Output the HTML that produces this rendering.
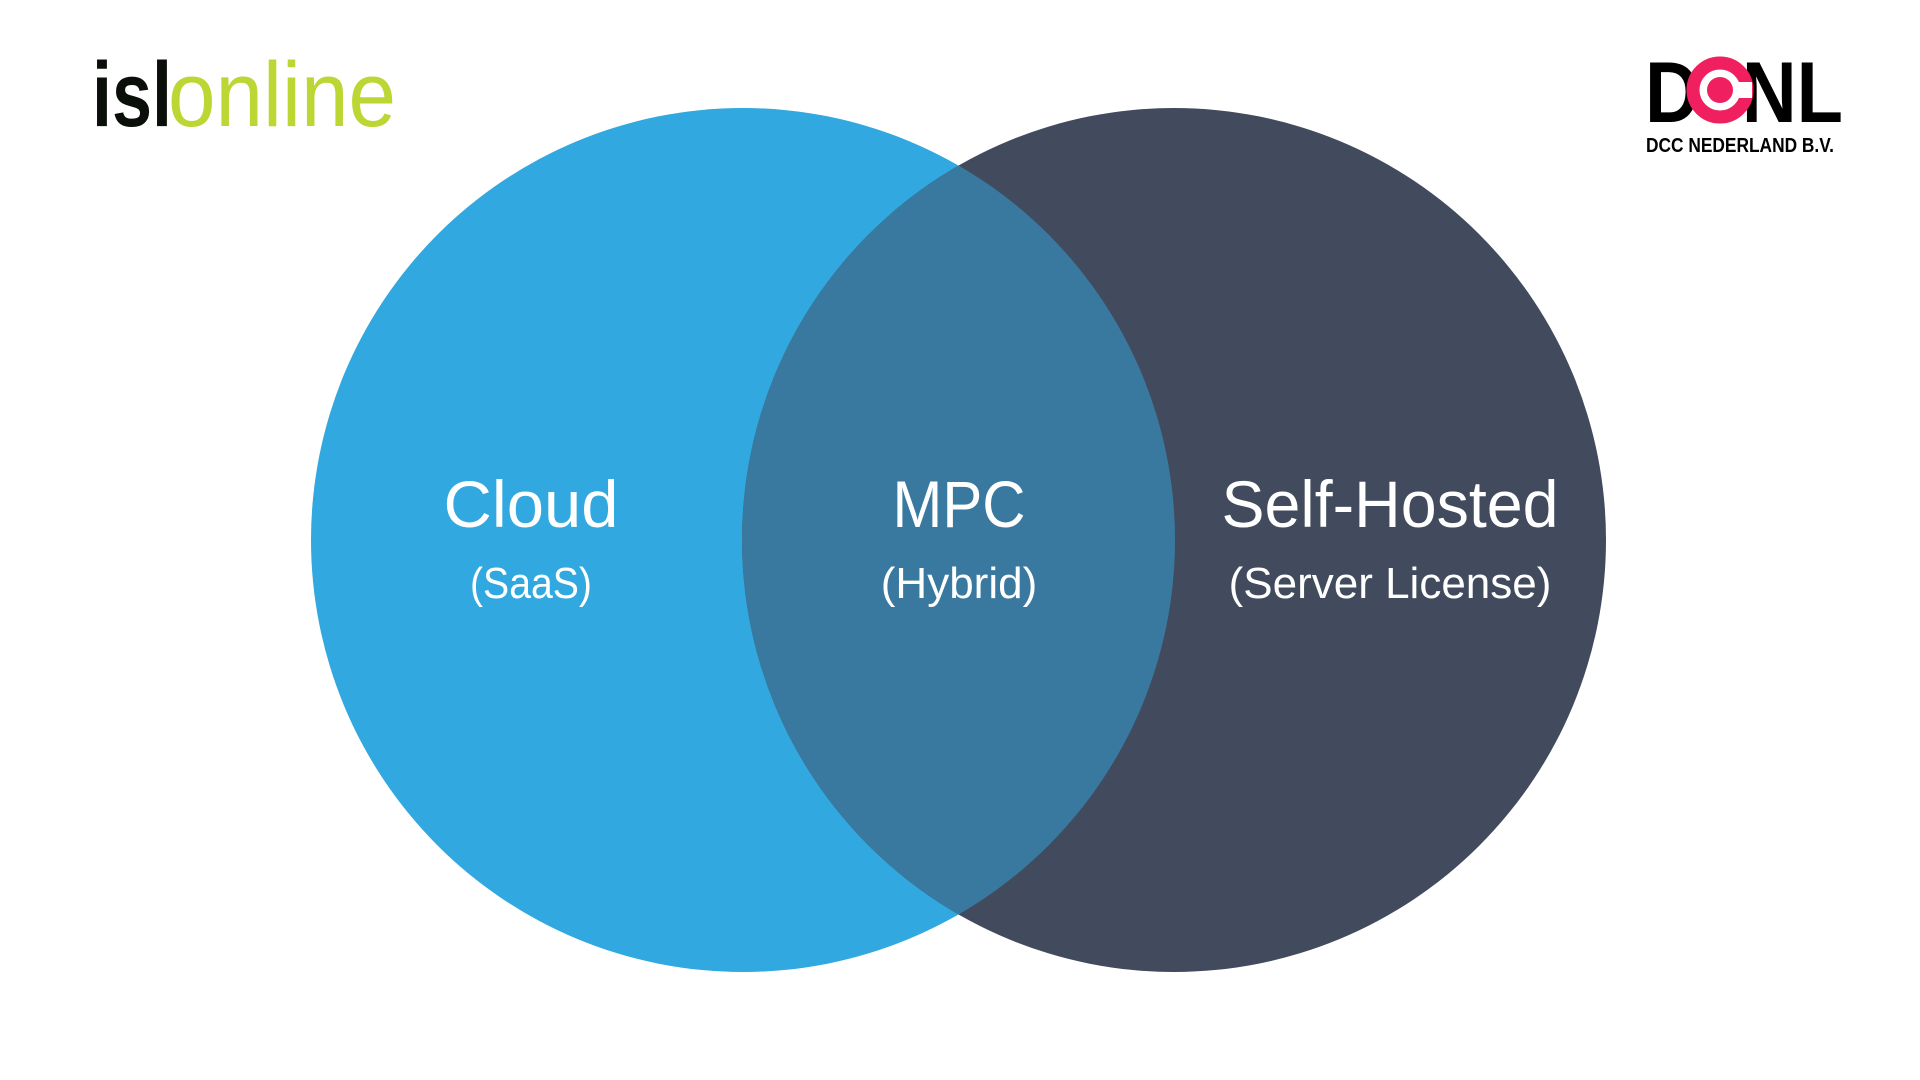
<!DOCTYPE html>
<html><head><meta charset="utf-8"><style>
html,body{margin:0;padding:0;background:#fff;}
svg{display:block}
</style></head><body>
<svg width="1920" height="1080" viewBox="0 0 1920 1080" xmlns="http://www.w3.org/2000/svg">
<defs><clipPath id="lc"><circle cx="743" cy="540" r="432"/></clipPath></defs>
<circle cx="743" cy="540" r="432" fill="#31a8df"/>
<circle cx="1174" cy="540" r="432" fill="#414b5d"/>
<circle cx="1174" cy="540" r="432" fill="#3a799f" clip-path="url(#lc)"/>
<g font-family="Liberation Sans, sans-serif" fill="#fff" text-anchor="middle">
<text x="531" y="527" font-size="66" textLength="175" lengthAdjust="spacingAndGlyphs">Cloud</text>
<text x="531" y="598" font-size="44" textLength="122" lengthAdjust="spacingAndGlyphs">(SaaS)</text>
<text x="959" y="527" font-size="66" textLength="133" lengthAdjust="spacingAndGlyphs">MPC</text>
<text x="959" y="598" font-size="44">(Hybrid)</text>
<text x="1390" y="527" font-size="66" textLength="337" lengthAdjust="spacingAndGlyphs">Self-Hosted</text>
<text x="1390" y="598" font-size="44">(Server License)</text>
</g>
<g font-family="Liberation Sans, sans-serif" font-size="92">
<text x="92" y="126" textLength="80" lengthAdjust="spacingAndGlyphs" fill="#0a0f0a" font-weight="bold">isl</text>
<text x="168" y="126" textLength="228" lengthAdjust="spacingAndGlyphs" fill="#bcd634">online</text>
</g>
<g font-family="Liberation Sans, sans-serif" font-weight="bold" fill="#000">
<text x="1645" y="122" font-size="86" textLength="198" lengthAdjust="spacingAndGlyphs">D&#160;&#160;NL</text>
<circle cx="1720" cy="90" r="27" fill="none" stroke="#ef1f60" stroke-width="13"/>
<rect x="1738" y="82" width="14" height="16" fill="#fff"/>
<circle cx="1720" cy="90" r="13" fill="#ef1f60"/>
<text x="1646" y="152" font-size="20" textLength="188" lengthAdjust="spacingAndGlyphs">DCC NEDERLAND B.V.</text>
</g>
</svg>
</body></html>
